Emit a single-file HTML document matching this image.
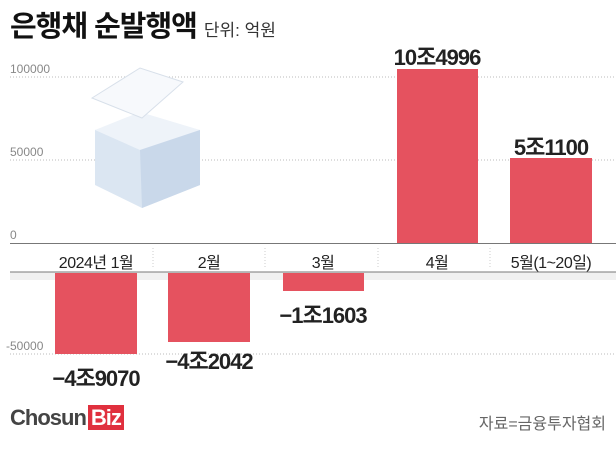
<!DOCTYPE html>
<html><head><meta charset="utf-8"><style>
body{margin:0;width:616px;height:449px;background:#fff;position:relative;overflow:hidden;font-family:"Liberation Sans","Noto Sans CJK KR",sans-serif}
.a{position:absolute;white-space:nowrap}
.t{color:#888;font-size:12px}
.v{font-weight:bold;font-size:22px;color:#222;letter-spacing:-1px;transform:translateX(-50%)}
.m{font-size:16px;color:#222;transform:translateX(-50%);top:249px;letter-spacing:-0.5px}
.b{position:absolute;background:#e5525f}
</style></head><body>
<div class="a" style="left:10px;top:3px;font-size:29px;font-weight:bold;color:#111;letter-spacing:-1px">은행채 순발행액 <span style="font-size:17px;font-weight:normal;color:#333;letter-spacing:0">단위: 억원</span></div>
<svg class="a" style="left:0;top:0" width="616" height="449">
<line x1="10" y1="77" x2="616" y2="77" stroke="#bbb" stroke-dasharray="1,2"/>
<line x1="10" y1="160" x2="616" y2="160" stroke="#bbb" stroke-dasharray="1,2"/>
<line x1="10" y1="354" x2="616" y2="354" stroke="#bbb" stroke-dasharray="1,2"/>
<line x1="10" y1="243.5" x2="616" y2="243.5" stroke="#777"/>
<rect x="10" y="272" width="606" height="8" fill="#f0f0f0"/>
<line x1="10" y1="272" x2="616" y2="272" stroke="#777"/>
<g stroke="#ccc" stroke-dasharray="1,2"><line x1="153" y1="248" x2="153" y2="268"/><line x1="265" y1="248" x2="265" y2="268"/><line x1="378" y1="248" x2="378" y2="268"/><line x1="490" y1="248" x2="490" y2="268"/></g>
<polygon points="95,130 140,118 200,130 200,185 142,208 95,185" fill="#dbe6f2"/>
<polygon points="95,130 140,150 200,130 140,112" fill="#eef3f9"/>
<polygon points="140,150 200,130 200,185 142,208" fill="#c9d8ea"/>
<polygon points="92,98 140,68 183,82 142,118" fill="#f7f9fc" stroke="#d8e0ea"/>
</svg>
<div class="a t" style="left:10px;top:62px">100000</div>
<div class="a t" style="left:10px;top:145px">50000</div>
<div class="a t" style="left:10px;top:228px">0</div>
<div class="a t" style="left:6px;top:339px">-50000</div>
<div class="b" style="left:397px;top:69px;width:81px;height:174px"></div>
<div class="b" style="left:510px;top:158px;width:82px;height:85px"></div>
<div class="b" style="left:55px;top:273px;width:82px;height:81px"></div>
<div class="b" style="left:168px;top:273px;width:82px;height:69px"></div>
<div class="b" style="left:283px;top:273px;width:81px;height:18px"></div>
<div class="a m" style="left:96px">2024년 1월</div>
<div class="a m" style="left:209px">2월</div>
<div class="a m" style="left:323px">3월</div>
<div class="a m" style="left:437px">4월</div>
<div class="a m" style="left:551px">5월(1~20일)</div>
<div class="a v" style="left:437px;top:40px">10조4996</div>
<div class="a v" style="left:551px;top:130px">5조1100</div>
<div class="a v" style="left:323px;top:298px">−1조1603</div>
<div class="a v" style="left:209px;top:344px">−4조2042</div>
<div class="a v" style="left:96px;top:361px">−4조9070</div>
<div class="a" style="left:10px;top:405px;font-size:22px;font-weight:bold;color:#444;letter-spacing:-1px">Chosun<span style="background:#e0303e;color:#fff;padding:0 3px;margin-left:2px">Biz</span></div>
<div class="a" style="right:10px;top:410px;font-size:16px;color:#666">자료=금융투자협회</div>
</body></html>
